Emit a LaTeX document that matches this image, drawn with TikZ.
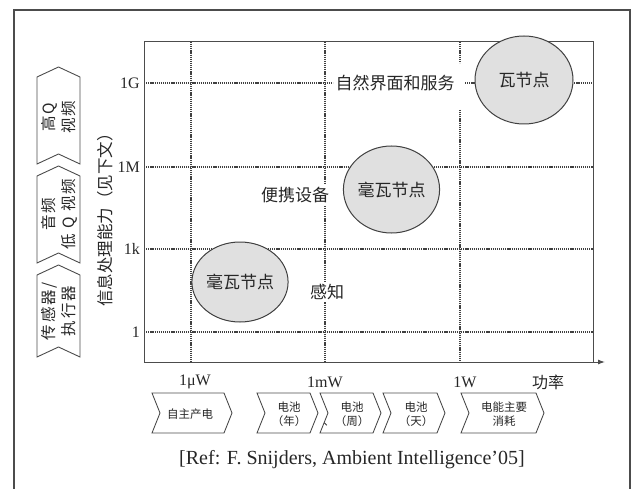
\documentclass[tikz,border=0pt]{standalone}
\usepackage{fontspec}
\setmainfont{Liberation Serif}
\newfontfamily\cjk{Noto Sans CJK SC}
\newfontfamily\cjkls[LetterSpace=12]{Noto Sans CJK SC}
\usetikzlibrary{arrows.meta,shapes.geometric}
\begin{document}
\begin{tikzpicture}[x=1pt,y=-1pt,
  frameline/.style={draw=black!70,line width=1.4pt},
  axisline/.style={draw=black!70,line width=1pt},
  gridline/.style={draw=black!75,line width=1.1pt,dash pattern=on 1.2pt off 0.9pt},
  bubble/.style={ellipse,draw=black!75,line width=1pt,fill=black!12,inner sep=0pt,
     font=\cjk\fontsize{17}{20}\selectfont,text=black!85},
  plottext/.style={fill=white,inner sep=2pt,font=\cjk\fontsize{17}{20}\selectfont,text=black!85},
  ticklab/.style={font=\fontsize{16}{19}\selectfont,text=black!85,inner sep=0pt},
  chev/.style={draw=black!70,line width=0.9pt},
  chevtext/.style={font=\cjk\fontsize{11.5}{14}\selectfont,align=center,text=black!85,inner sep=0pt},
  vchevtext/.style={font=\cjkls\fontsize{15.5}{20}\selectfont,align=center,text=black!85,inner sep=0pt,rotate=90}]
\useasboundingbox (0,0) rectangle (634,489);
\clip (0,0) rectangle (634,489);
% outer frame
\draw[frameline] (14,520) -- (14,10) -- (630,10) -- (630,520);
% grid
\draw[gridline] (191,42) -- (191,362);
\draw[gridline] (325,42) -- (325,362);
\draw[gridline] (460,42) -- (460,63);
\draw[gridline] (460,110) -- (460,362);
\draw[gridline] (144,83) -- (333,83);
\draw[gridline] (465,83) -- (593,83);
\foreach \gy in {167,249,332} \draw[gridline] (144,\gy) -- (593,\gy);
% axes box
\coordinate (o) at (144,362);
\coordinate (tl) at (144,42);
\coordinate (tr) at (593,42);
\coordinate (br) at (593,362);
\coordinate (xend) at (605,362);
\draw[axisline] (o) -- (tl) -- (tr) -- (br);
\draw[axisline,-{Latex[length=7pt,width=5pt]}] (o) -- (xend);
% bubbles
\node[bubble,minimum width=98pt,minimum height=88pt] (wnode) at (524,80) {瓦节点};
\node[bubble,minimum width=93pt,minimum height=87pt] (mwnode) at (391.5,189.5) {毫瓦节点};
\node[bubble,minimum width=88pt,minimum height=80pt] (uwnode) at (240,282) {毫瓦节点};
% plot texts
\node[plottext] (nat) at (395,83) {自然界面和服务};
\node[plottext] (port) at (295,195) {便携设备};
\node[plottext] (sens) at (327,292) {感知};
% y tick labels
\node[ticklab,anchor=east] (y1g) at (140,83) {1G};
\node[ticklab,anchor=east] (y1m) at (140,167) {1M};
\node[ticklab,anchor=east] (y1k) at (140,249) {1k};
\node[ticklab,anchor=east] (y1) at (140,332) {1};
% y title
\node[rotate=90,font=\cjk\fontsize{16.5}{19}\selectfont,text=black!85] (ytitle) at (105,216) {信息处理能力（见下文）};
% x tick labels
\node[ticklab] (xuw) at (195,382) {1μW};
\node[ticklab] (xmw) at (325,382) {1mW};
\node[ticklab] (xw) at (465,382) {1W};
\node[ticklab,font=\cjk\fontsize{16}{19}\selectfont] (xpow) at (548,382) {功率};
% left vertical chevrons
\draw[chev] (37,77) -- (58.5,67) -- (80,77) -- (80,164) -- (58.5,154) -- (37,164) -- cycle;
\draw[chev] (37,176) -- (58.5,166) -- (80,176) -- (80,263) -- (58.5,253) -- (37,263) -- cycle;
\draw[chev] (37,275) -- (58.5,265) -- (80,275) -- (80,357) -- (58.5,347) -- (37,357) -- cycle;
\node[vchevtext] (hq) at (59,117) {高Q\\视频};
\node[vchevtext] (lq) at (59,214) {音频\\低 Q 视频};
\node[vchevtext] (sa) at (59,311) {传感器/\\执行器};
% bottom chevrons
\draw[chev] (152,393) -- (224,393) -- (232,413) -- (224,433) -- (152,433) -- (160,413) -- cycle;
\draw[chev] (257,393) -- (310,393) -- (318,413) -- (310,433) -- (257,433) -- (265,413) -- cycle;
\draw[chev] (320,393) -- (373,393) -- (381,413) -- (373,433) -- (320,433) -- (328,413) -- cycle;
\draw[chev] (383,393) -- (437,393) -- (445,413) -- (437,433) -- (383,433) -- (391,413) -- cycle;
\draw[chev] (461,393) -- (536,393) -- (544,413) -- (536,433) -- (461,433) -- (469,413) -- cycle;
\node[chevtext] (c1) at (190,414) {自主产电};
\node[chevtext] (c2) at (289,414) {电池\\（年）};
\node[chevtext] (c3) at (352,414) {电池\\\llap{、}（周）};
\node[chevtext] (c4) at (416,414) {电池\\（天）};
\node[chevtext] (c5) at (504,414) {电能主要\\消耗};
% reference
\node[font=\fontsize{20}{23}\selectfont,text=black!85] (ref) at (352,460) {[Ref: F. Snijders, Ambient Intelligence’05]};
\end{tikzpicture}
\end{document}
